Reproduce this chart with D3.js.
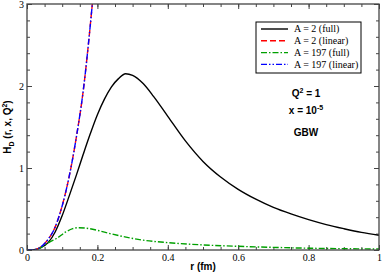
<!DOCTYPE html>
<head>
<meta charset="utf-8">
<style>
  body { margin: 0; background: #fff; }
  .tick-label { font-family: "Liberation Serif", "DejaVu Serif", serif; font-size: 10px; fill: #000; }
  .lbl { font-family: "Liberation Sans", Arial, sans-serif; font-weight: bold; font-size: 10px; fill: #000; }
  .leg { font-family: "Liberation Serif", serif; font-size: 10px; fill: #000; }
</style>
</head>
<body>
<script src="https://d3js.org/d3.v7.min.js"></script>
<svg width="382" height="274"></svg>
<script>
    // values
    var rFull2 = [0, 0.02, 0.04, 0.06, 0.08, 0.1, 0.12, 0.14, 0.16, 0.18, 0.2, 0.22, 0.24, 0.26, 0.28, 0.3, 0.33, 0.36, 0.4, 0.45, 0.5, 0.55, 0.6, 0.65, 0.7, 0.75, 0.8, 0.85, 0.9, 0.95, 1.0];
    var hFull2 = [0, 0.004, 0.03, 0.09, 0.22, 0.42, 0.66, 0.91, 1.17, 1.42, 1.65, 1.84, 1.99, 2.09, 2.15, 2.13, 2.03, 1.87, 1.63, 1.33, 1.08, 0.89, 0.74, 0.62, 0.52, 0.44, 0.37, 0.31, 0.26, 0.215, 0.18];

    var rLinear = [0, 0.02, 0.04, 0.06, 0.08, 0.1, 0.12, 0.14, 0.16, 0.18, 0.2];
    var hLinear2 = [0, 0.004, 0.04, 0.13, 0.28, 0.54, 0.9, 1.37, 1.95, 2.75, 3.7];
    var hLinear197 = [0, 0.004, 0.04, 0.13, 0.28, 0.54, 0.9, 1.37, 1.95, 2.75, 3.7];

    var rFull197 = [0, 0.02, 0.035, 0.051, 0.065, 0.084, 0.11, 0.13, 0.146, 0.17, 0.2, 0.236, 0.278, 0.33, 0.4, 0.5, 0.6, 0.7, 0.8, 0.9, 1.0];
    var hFull197 = [0, 0.002, 0.02, 0.06, 0.1, 0.14, 0.22, 0.26, 0.272, 0.265, 0.24, 0.2, 0.16, 0.12, 0.09, 0.062, 0.045, 0.032, 0.022, 0.016, 0.012];

    var xTicks = [0, 0.2, 0.4, 0.6, 0.8, 1];
    var yTicks = [0, 1, 2, 3];
    var legendNames = ["A = 2 (full)", "A = 2 (linear)", "A = 197 (full)", "A = 197 (linear)"];

    var svg = d3.select("svg"),
        pLeft = 27, pRight = 379, pTop = 4, pBottom = 250;

    var x = d3.scaleLinear().domain([0, 1]).range([pLeft, pRight]);
    var y = d3.scaleLinear().domain([0, 3]).range([pBottom, pTop]);

    svg.append("clipPath").attr("id", "clip")
        .append("rect").attr("x", pLeft).attr("y", pTop).attr("width", pRight - pLeft).attr("height", pBottom - pTop);

    // ticks inward on all four sides
    var fmt = function (d) { return d3.format("")(d); };
    var axes = [
        [d3.axisBottom(x).ticks(20).tickSize(-3).tickFormat(""), "0," + pBottom],
        [d3.axisBottom(x).tickValues(xTicks).tickSize(-5).tickPadding(4).tickFormat(fmt), "0," + pBottom],
        [d3.axisTop(x).ticks(20).tickSize(-3).tickFormat(""), "0," + pTop],
        [d3.axisTop(x).tickValues(xTicks).tickSize(-5).tickFormat(""), "0," + pTop],
        [d3.axisLeft(y).ticks(15).tickSize(-3).tickFormat(""), pLeft + ",0"],
        [d3.axisLeft(y).tickValues(yTicks).tickSize(-5).tickPadding(3).tickFormat(fmt), pLeft + ",0"],
        [d3.axisRight(y).ticks(15).tickSize(-3).tickFormat(""), pRight + ",0"],
        [d3.axisRight(y).tickValues(yTicks).tickSize(-5).tickFormat(""), pRight + ",0"]
    ];
    axes.forEach(function (a) {
        var g = svg.append("g").attr("transform", "translate(" + a[1] + ")").call(a[0]);
        g.attr("font-size", null).attr("font-family", null);
        g.select(".domain").remove();
        g.selectAll("line").attr("stroke", "#444").attr("stroke-width", 1);
        g.selectAll("text").attr("class", "tick-label");
    });

    var line = d3.line()
        .x(function (d) { return x(d[0]); })
        .y(function (d) { return y(d[1]); })
        .curve(d3.curveMonotoneX);

    var series = [
        { r: rFull2, h: hFull2, color: "#000", dash: null },
        { r: rLinear, h: hLinear2, color: "#ff0000", dash: "6,3" },
        { r: rFull197, h: hFull197, color: "#00a000", dash: "6,2,1.5,2" },
        { r: rLinear, h: hLinear197, color: "#0000ff", dash: "6,2,1.5,2,1.5,2" }
    ];

    var plot = svg.append("g").attr("clip-path", "url(#clip)");
    series.forEach(function (s) {
        plot.append("path")
            .datum(d3.zip(s.r, s.h))
            .attr("d", line)
            .attr("fill", "none")
            .attr("stroke", s.color)
            .attr("stroke-width", 1.4)
            .attr("stroke-dasharray", s.dash);
    });

    // frame
    svg.append("rect").attr("x", pLeft).attr("y", pTop).attr("width", pRight - pLeft).attr("height", pBottom - pTop)
        .attr("fill", "none").attr("stroke", "#444").attr("stroke-width", 1.3);

    // legend
    var leg = svg.append("g");
    leg.append("rect").attr("x", 256).attr("y", 22).attr("width", 105).attr("height", 51)
        .attr("fill", "#fff").attr("stroke", "#000").attr("stroke-width", 1);
    legendNames.forEach(function (name, i) {
        var yy = 29 + i * 11.8;
        leg.append("line").attr("x1", 261).attr("x2", 288).attr("y1", yy).attr("y2", yy)
            .attr("stroke", series[i].color).attr("stroke-width", 1.4).attr("stroke-dasharray", series[i].dash);
        leg.append("text").attr("class", "leg").attr("x", 294).attr("y", yy + 3.3).text(name);
    });

    // annotations
    var q = svg.append("text").attr("class", "lbl").attr("x", 306).attr("y", 97).attr("text-anchor", "middle");
    q.append("tspan").text("Q");
    q.append("tspan").attr("dy", -4).attr("font-size", "7px").text("2");
    q.append("tspan").attr("dy", 4).text(" = 1");

    var xt = svg.append("text").attr("class", "lbl").attr("x", 306).attr("y", 114).attr("text-anchor", "middle");
    xt.append("tspan").text("x = 10");
    xt.append("tspan").attr("dy", -4).attr("font-size", "7px").text("-5");

    svg.append("text").attr("class", "lbl").attr("x", 306).attr("y", 136).attr("text-anchor", "middle").text("GBW");

    // axis titles
    svg.append("text").attr("class", "lbl").attr("x", (pLeft + pRight) / 2).attr("y", 270)
        .attr("text-anchor", "middle").text("r (fm)");

    var yl = svg.append("text").attr("class", "lbl").attr("text-anchor", "middle")
        .attr("transform", "translate(11,127) rotate(-90)");
    yl.append("tspan").text("H");
    yl.append("tspan").attr("dy", 3).attr("font-size", "7px").text("D");
    yl.append("tspan").attr("dy", -3).text(" (r, x, Q");
    yl.append("tspan").attr("dy", -4).attr("font-size", "7px").text("2");
    yl.append("tspan").attr("dy", 4).text(")");
</script>
</body>
